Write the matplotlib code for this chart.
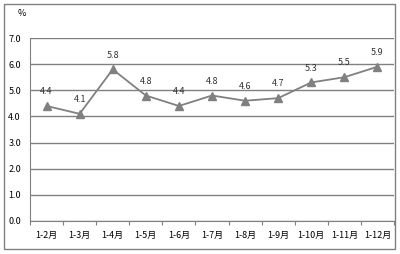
import matplotlib.pyplot as plt
from matplotlib.patches import Rectangle

plt.rcParams['font.family'] = ['Noto Sans CJK SC', 'DejaVu Sans']

categories = ['1-2月', '1-3月', '1-4月', '1-5月', '1-6月', '1-7月',
              '1-8月', '1-9月', '1-10月', '1-11月', '1-12月']
values = [4.4, 4.1, 5.8, 4.8, 4.4, 4.8, 4.6, 4.7, 5.3, 5.5, 5.9]
yticks = [0.0, 1.0, 2.0, 3.0, 4.0, 5.0, 6.0, 7.0]

W, H = 400, 254
fig = plt.figure(figsize=(W / 100, H / 100), dpi=100)
ax = fig.add_axes([30 / W, 1 - 221 / H, 364 / W, 183 / H])

gray = '#808080'
x = range(len(categories))
ax.plot(x, values, color=gray, lw=1.3, marker='^', markersize=6,
        markerfacecolor=gray, markeredgecolor=gray, zorder=3)
for xi, v in zip(x, values):
    ax.annotate(f'{v}', (xi, v), xytext=(0, 7), textcoords='offset points',
                ha='center', va='bottom', fontsize=6.5, color='#333333')

ax.set_xlim(-0.5, len(categories) - 0.5)
ax.set_ylim(0, 7)
ax.set_yticks(yticks)
ax.set_yticklabels([f'{t:.1f}' for t in yticks], fontsize=6.5)
ax.set_xticks([i + 0.5 for i in range(-1, len(categories))], minor=False)
ax.set_xticklabels([])
ax.set_xticks(list(x), minor=True)
ax.set_xticklabels(categories, minor=True, fontsize=6.5)
ax.tick_params(axis='x', which='major', length=3, color=gray, direction='out')
ax.tick_params(axis='x', which='minor', length=0, pad=7)
ax.tick_params(axis='y', length=0, pad=6.5)

ax.yaxis.grid(True, color=gray, lw=1)
ax.set_axisbelow(True)
for side in ['top', 'right']:
    ax.spines[side].set_visible(False)
ax.spines['left'].set_color(gray)
ax.spines['bottom'].set_color(gray)

fig.text(22 / W, 1 - 14 / H, '%', fontsize=6.5, ha='center', va='center')
fig.patches.append(Rectangle((4 / W, 1 - 249 / H), 391 / W, 245 / H,
                             transform=fig.transFigure, fill=False,
                             edgecolor=gray, lw=1))

fig.savefig('out.png', dpi=100)
